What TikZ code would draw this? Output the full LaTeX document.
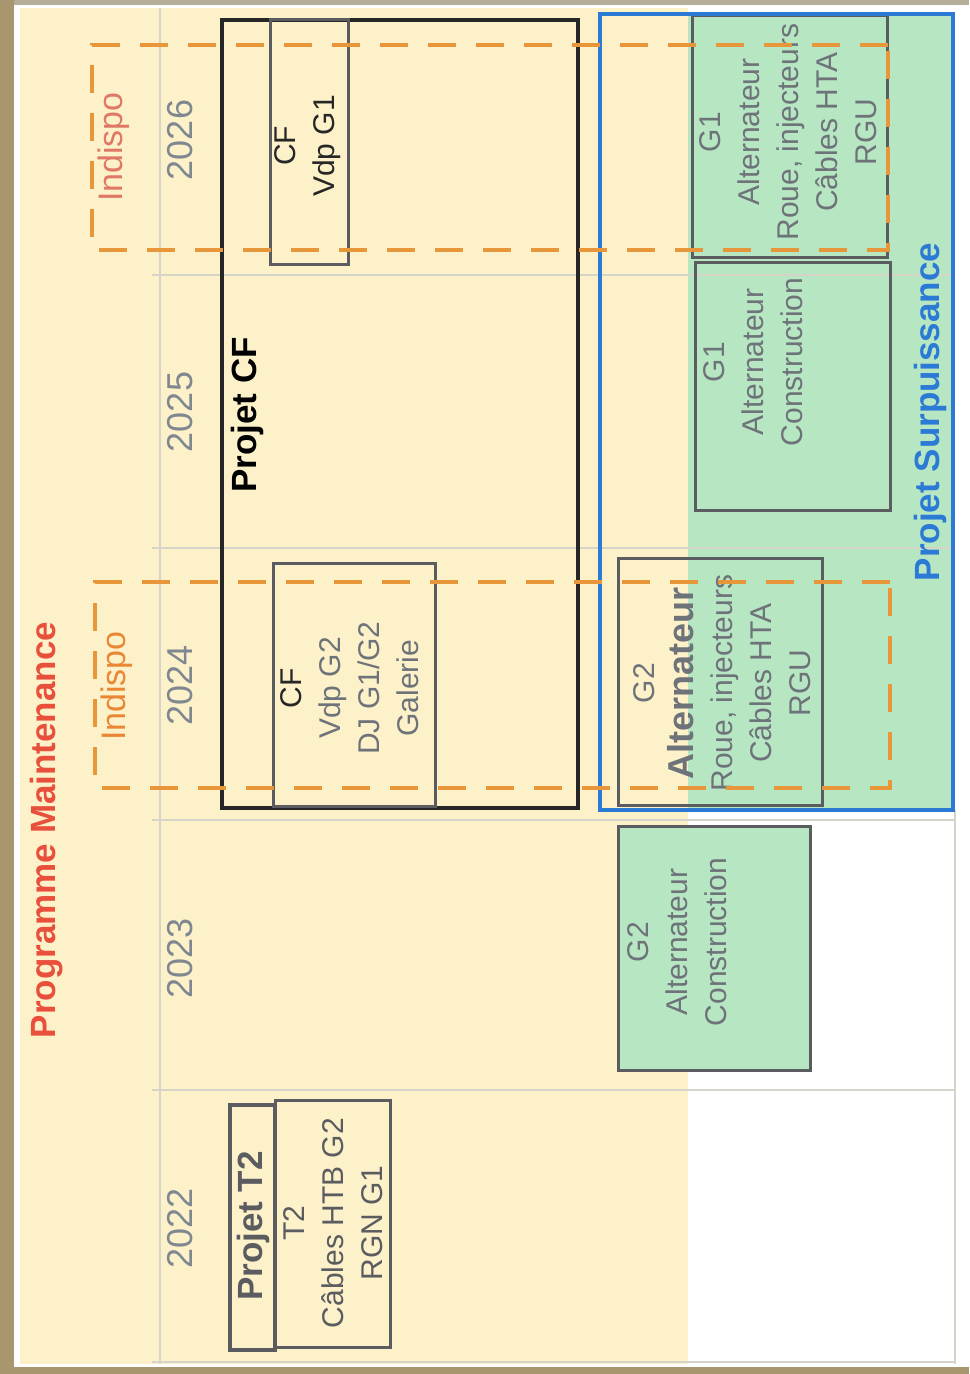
\documentclass[tikz,border=0pt]{standalone}
\usepackage{fontspec}
\setmainfont{Liberation Sans}
\usetikzlibrary{positioning}

\definecolor{framebrown}{HTML}{A8966E}
\definecolor{framegray}{HTML}{B4AE98}
\definecolor{yellowbg}{HTML}{FDF1C9}
\definecolor{greenbg}{HTML}{B6E6C2}
\definecolor{gridgray}{HTML}{D6D3C8}
\definecolor{yeargray}{HTML}{7F8790}
\definecolor{boxgray}{HTML}{5A5C60}
\definecolor{txtgray}{HTML}{6E737A}
\definecolor{indorange}{HTML}{E8963A}
\definecolor{indred}{HTML}{E07866}
\definecolor{surpblue}{HTML}{2B7AD6}
\definecolor{titlered}{HTML}{E8503C}

\begin{document}
\begin{tikzpicture}[x=0.5pt, y=-0.5pt,
    every node/.style={inner sep=0pt, align=center, rotate=90},
    yearlbl/.style={text=yeargray, font=\fontsize{18}{20}\selectfont},
    boxline/.style={draw=boxgray, line width=1.5pt},
    boxtxt/.style={text=txtgray, font=\fontsize{15}{19.5}\selectfont},
    projlbl/.style={font=\bfseries\fontsize{17.5}{20}\selectfont},
    indispo/.style={draw=indorange, line width=2pt, dash pattern=on 14pt off 10pt},
    indlbl/.style={font=\fontsize{17}{20}\selectfont},
  ]
  \useasboundingbox (0,0) rectangle (969,1374);

  % paper and backgrounds
  \fill[framegray] (0,0) rectangle (969,1374);
  \fill[framebrown] (0,0) rectangle (14,1374);
  \fill[framebrown] (0,1367) rectangle (969,1374);
  \fill[white] (14,5) rectangle (969,1367);
  \fill[yellowbg] (20,8) rectangle (688,1364);
  \fill[greenbg] (688,14) rectangle (953,810);

  % grid
  \draw[gridgray, line width=1pt] (160,8) -- (160,1364);
  \foreach \yy in {275,548,820,1090,1362}
    \draw[gridgray, line width=1pt] (152,\yy) -- (955,\yy);
  \draw[gridgray, line width=1pt] (955,810) -- (955,1364);

  % years
  \foreach \yr/\yy in {2026/140, 2025/412, 2024/685, 2023/958, 2022/1228}
    \node[yearlbl] (y\yr) at (180,\yy) {\yr};

  \node[text=titlered, projlbl] (title) at (47,830) {Programme Maintenance};

  % Projet CF
  \draw[draw=black!85, line width=2pt] (222,20) rectangle (578,808);
  \node[projlbl] (projcf) at (247,415) {Projet CF};
  \draw[boxline] (270,20) rectangle (348,265);
  \node[boxtxt, text=black!85] (cfg1) at (308,146) {CF\\Vdp G1};
  \draw[boxline] (273,563) rectangle (435,806);
  \node[boxtxt] (cfg2) at (350,688)
    {\textcolor{black!85}{CF}\\Vdp G2\\DJ G1/G2\\Galerie};

  % Projet Surpuissance
  \draw[boxline] (692,16) rectangle (887,258);
  \node[boxtxt] (g1roue) at (788,132)
    {G1\\Alternateur\\Roue, injecteurs\\Câbles HTA\\RGU};
  \draw[boxline] (695,263) rectangle (890,510);
  \node[boxtxt] (g1cons) at (753,362) {G1\\Alternateur\\Construction};
  \draw[boxline] (618,558) rectangle (822,805);
  \node[boxtxt] (g2roue) at (722,683)
    {G2\\{\bfseries\fontsize{18}{19.5}\selectfont Alternateur}\\Roue, injecteurs\\Câbles HTA\\RGU};
  \draw[draw=surpblue, line width=2pt] (600,14) rectangle (953,810);
  \node[text=surpblue, projlbl] (projsurp) at (930,412) {Projet Surpuissance};

  % G2 construction
  \draw[boxline, fill=greenbg] (618,826) rectangle (810,1070);
  \node[boxtxt] (g2cons) at (677,942) {G2\\Alternateur\\Construction};

  % Projet T2
  \draw[draw=boxgray, line width=2pt] (230,1105) rectangle (275,1350);
  \node[text=boxgray, projlbl] (projt2) at (253,1226) {Projet T2};
  \draw[boxline] (275,1100) rectangle (390,1347);
  \node[boxtxt, text=boxgray] (t2) at (333,1223) {T2\\Câbles HTB G2\\RGN G1};

  % Indispo
  \draw[indispo] (888,45) -- (92,45) -- (92,250) -- (888,250) -- cycle;
  \node[indlbl, text=indred] (ind1) at (114,147) {Indispo};
  \draw[indispo] (890,582) -- (95,582) -- (95,788) -- (890,788) -- cycle;
  \node[indlbl, text=indorange!90!red] (ind2) at (117,686) {Indispo};
\end{tikzpicture}
\end{document}
